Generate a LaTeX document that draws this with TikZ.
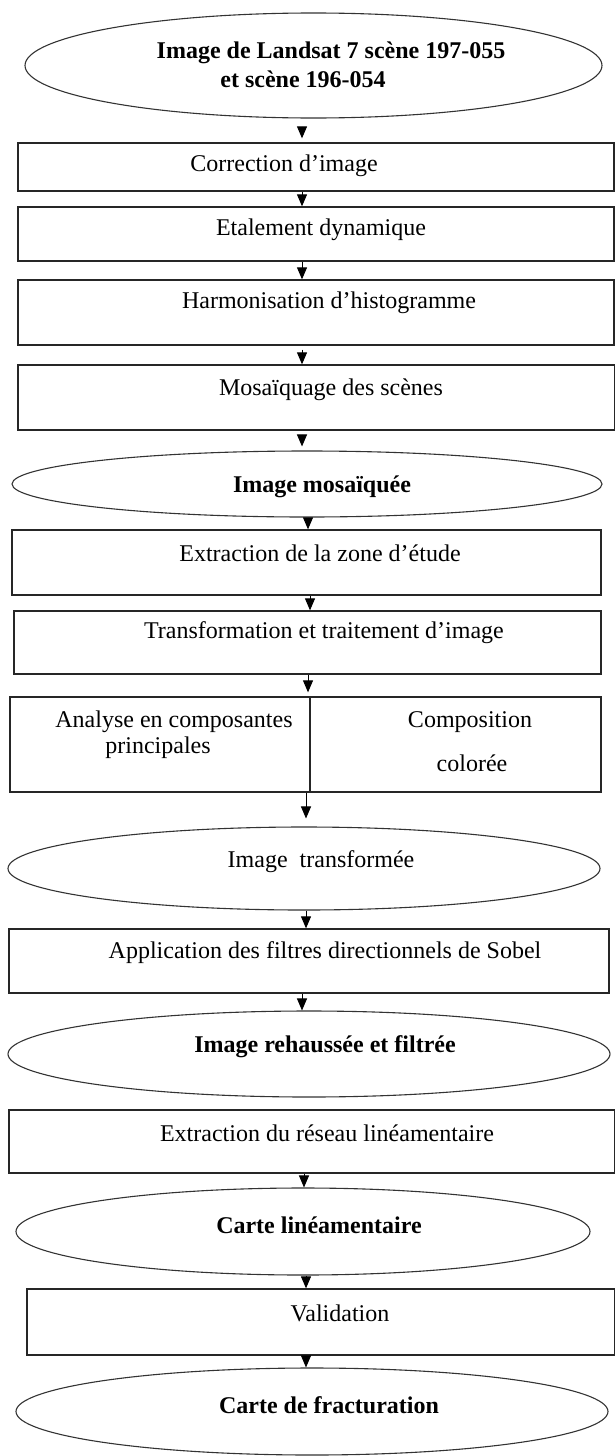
\documentclass[tikz,border=0pt]{standalone}
\usepackage{fontspec}
\setmainfont{Liberation Serif}
\usetikzlibrary{arrows.meta,shapes.geometric}
\begin{document}
\begin{tikzpicture}[x=0.5pt,y=-0.5pt,
  box/.style={draw=black!85,line width=0.65pt,rectangle,inner sep=0pt},
  oval/.style={draw=black!80,line width=0.55pt,ellipse,inner sep=0pt},
  lbl/.style={font=\fontsize{12pt}{14pt}\selectfont,inner sep=0pt},
  blbl/.style={inner sep=0pt,font=\fontsize{12pt}{14pt}\selectfont\bfseries},
  arr/.style={line width=0.5pt,-{Triangle[width=5pt,length=6pt]}}]
\useasboundingbox (0,0) rectangle (615,1456);
% shapes
\node[oval,minimum width=288.5pt,minimum height=52.5pt] (E1) at (313.5,65.5) {};
\node[box,minimum width=298pt,minimum height=24pt] (B1) at (316,167) {};
\node[box,minimum width=298pt,minimum height=27pt] (B2) at (316,234) {};
\node[box,minimum width=298pt,minimum height=32.5pt] (B3) at (316,312.5) {};
\node[box,minimum width=298.5pt,minimum height=32.5pt] (B4) at (316.5,397.5) {};
\node[oval,minimum width=295pt,minimum height=33pt] (E2) at (307,484) {};
\node[box,minimum width=294.5pt,minimum height=32.5pt] (B5) at (306.5,562.5) {};
\node[box,minimum width=293.5pt,minimum height=31.5pt] (B6) at (307.5,642.5) {};
\node[box,minimum width=150pt,minimum height=47.5pt] (B7a) at (160,744.5) {};
\node[box,minimum width=145.5pt,minimum height=47.5pt] (B7b) at (455.5,744.5) {};
\node[oval,minimum width=296pt,minimum height=41.5pt] (E3) at (304,868.5) {};
\node[box,minimum width=300pt,minimum height=32pt] (B8) at (309,961) {};
\node[oval,minimum width=301pt,minimum height=43pt] (E4) at (309,1054) {};
\node[box,minimum width=303pt,minimum height=31.5pt] (B9) at (312,1141.5) {};
\node[oval,minimum width=287pt,minimum height=43.5pt] (E5) at (303,1231.5) {};
\node[box,minimum width=294pt,minimum height=33pt] (B10) at (321,1322) {};
\node[oval,minimum width=296pt,minimum height=43.5pt] (E6) at (312,1411.5) {};
% labels
\node[blbl] (t1a) at (331,53) {Image de Landsat 7 scène 197-055};
\node[blbl] (t1b) at (303,79) {et scène 196-054};
\node[lbl] (t2) at (284,166) {Correction d’image};
\node[lbl] (t3) at (321,230) {Etalement dynamique};
\node[lbl] (t4) at (329,303) {Harmonisation d’histogramme};
\node[lbl] (t5) at (331,390) {Mosaïquage des scènes};
\node[blbl] (t6) at (322,487) {Image mosaïquée};
\node[lbl] (t7) at (320,553) {Extraction de la zone d’étude};
\node[lbl] (t8) at (324,633) {Transformation et traitement d’image};
\node[lbl] (t9a) at (174,722) {Analyse en composantes};
\node[lbl] (t9b) at (158,748) {principales};
\node[lbl] (t10a) at (470,722) {Composition};
\node[lbl] (t10b) at (472,763) {colorée};
\node[lbl] (t11) at (321,862) {Image~~transformée};
\node[lbl] (t12) at (325,953) {Application des filtres directionnels de Sobel};
\node[blbl] (t13) at (325,1047) {Image rehaussée et filtrée};
\node[lbl] (t14) at (327,1133) {Extraction du réseau linéamentaire};
\node[blbl] (t15) at (319,1225) {Carte linéamentaire};
\node[lbl] (t16) at (340,1313) {Validation};
\node[blbl] (t17) at (329,1405) {Carte de fracturation};
% arrow columns
\coordinate (a1) at (302,0);
\coordinate (a6) at (308,0);
\coordinate (a7) at (310,0);
\coordinate (a9) at (306,0);
\coordinate (a12) at (304,0);
% connectors
\draw[arr,shorten <=4pt,shorten >=2pt] (E1.south -| a1) -- (B1.north -| a1);
\draw[arr] (B1.south -| a1) -- (B2.north -| a1);
\draw[arr] (B2.south -| a1) -- (B3.north -| a1);
\draw[arr,shorten <=2pt] (B3.south -| a1) -- (B4.north -| a1);
\draw[arr,shorten <=2pt,shorten >=2pt] (B4.south -| a1) -- (E2.north -| a1);
\draw[arr] (E2.south -| a6) -- (B5.north -| a6);
\draw[arr] (B5.south -| a7) -- (B6.north -| a7);
\draw[arr,shorten >=2pt] (B6.south -| a6) -- (B7a.north -| a6);
\draw[arr,shorten >=4pt] (B7a.south -| a9) -- (E3.north -| a9);
\draw[arr] (E3.south -| a9) -- (B8.north -| a9);
\draw[arr] (B8.south -| a1) -- (E4.north -| a1);
\draw[arr] (B9.south -| a12) -- (E5.north -| a12);
\draw[arr] (E5.south -| a9) -- (B10.north -| a9);
\draw[arr] (B10.south -| a9) -- (E6.north -| a9);
\end{tikzpicture}
\end{document}
